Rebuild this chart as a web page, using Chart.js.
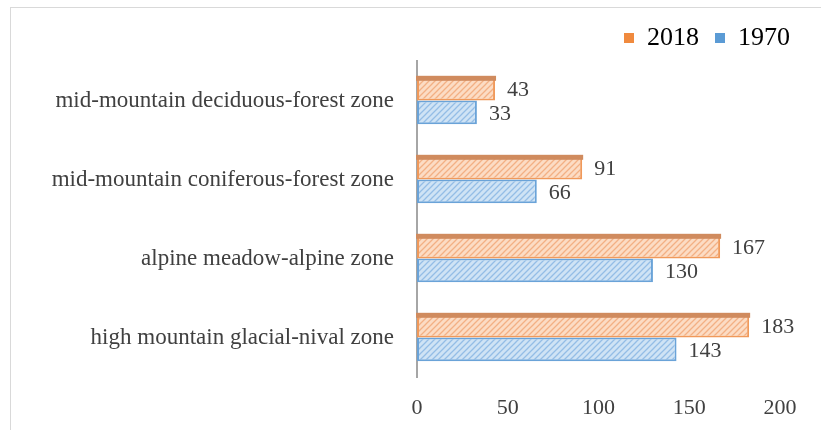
<!DOCTYPE html>
<html>
<head>
<meta charset="utf-8">
<script src="https://cdn.jsdelivr.net/npm/chart.js@4"></script>
<style>
  body { margin: 0; background: #fff; }
  #wrap { position: relative; width: 821px; height: 430px; overflow: hidden; }
  #frame { position: absolute; left: 10px; top: 7px; width: 830px; height: 440px; border: 1px solid #d9d9d9; box-sizing: border-box; }
  canvas { position: absolute; left: 0; top: 0; }
</style>
</head>
<body>
<div id="wrap">
  <div id="frame"></div>
  <canvas id="chart"></canvas>
</div>
<script>
// zones, top to bottom
const zones = [
  'mid-mountain deciduous-forest zone',
  'mid-mountain coniferous-forest zone',
  'alpine meadow-alpine zone',
  'high mountain glacial-nival zone'
];
const values2018 = [43, 91, 167, 183];
const values1970 = [33, 66, 130, 143];
const xTicks = [0, 50, 100, 150, 200];

const serif = '"Liberation Serif", "Times New Roman", serif';

const canvas = document.getElementById('chart');
canvas.width = 821;
canvas.height = 430;
const ctx = canvas.getContext('2d');

// diagonal hatch fill like the office chart
function hatch(bg, line) {
  const p = document.createElement('canvas');
  p.width = 6;
  p.height = 6;
  const c = p.getContext('2d');
  c.fillStyle = bg;
  c.fillRect(0, 0, 6, 6);
  c.strokeStyle = line;
  c.lineWidth = 1.3;
  c.beginPath();
  c.moveTo(-1, 7); c.lineTo(7, -1);
  c.moveTo(-1, 1); c.lineTo(1, -1);
  c.moveTo(5, 7); c.lineTo(7, 5);
  c.stroke();
  return ctx.createPattern(p, 'repeat');
}

// top face strip on the orange bars + value labels
const barExtras = {
  id: 'barExtras',
  afterDatasetsDraw(chart) {
    const c = chart.ctx;
    chart.data.datasets.forEach((ds, i) => {
      const meta = chart.getDatasetMeta(i);
      meta.data.forEach((bar, j) => {
        const top = bar.y - bar.height / 2;
        if (i === 0) {
          c.fillStyle = '#d08b5e';
          c.fillRect(bar.base - 1, top - 1, bar.x - bar.base + 2, 5);
        }
        c.save();
        c.fillStyle = '#404040';
        c.font = '22px ' + serif;
        c.textBaseline = 'middle';
        c.fillText(ds.data[j], bar.x + 12, bar.y + 2);
        c.restore();
      });
    });
  }
};

new Chart(ctx, {
  type: 'bar',
  data: {
    labels: zones,
    datasets: [{
      label: '2018',
      data: values2018,
      backgroundColor: hatch('#fcdcc4', '#f3b084'),
      borderColor: '#f0995a',
      borderWidth: 2,
      borderSkipped: false
    }, {
      label: '1970',
      data: values1970,
      backgroundColor: hatch('#cfe3f5', '#94bde6'),
      borderColor: '#6aa3d8',
      borderWidth: 2,
      borderSkipped: false
    }]
  },
  plugins: [barExtras],
  options: {
    indexAxis: 'y',
    responsive: false,
    animation: false,
    layout: { padding: { top: 9, right: 15, bottom: 0, left: 0 } },
    datasets: {
      bar: { categoryPercentage: 0.6, barPercentage: 1.0 }
    },
    plugins: {
      legend: {
        position: 'top',
        align: 'end',
        labels: {
          boxWidth: 10,
          boxHeight: 10,
          padding: 16,
          color: '#404040',
          font: { family: serif, size: 26 },
          generateLabels(chart) {
            return chart.data.datasets.map((ds, i) => ({
              text: ds.label,
              fillStyle: i === 0 ? '#f08a3e' : '#5b9bd5',
              strokeStyle: i === 0 ? '#f08a3e' : '#5b9bd5',
              lineWidth: 0,
              datasetIndex: i
            }));
          }
        }
      },
      tooltip: { enabled: false }
    },
    scales: {
      x: {
        min: 0,
        max: 200,
        afterBuildTicks(axis) { axis.ticks = xTicks.map(v => ({ value: v })); },
        afterFit(axis) {
          axis.height = 53;
          axis.paddingLeft = 0;
          axis.paddingRight = 41;
        },
        grid: { display: false },
        border: { display: false },
        ticks: {
          color: '#404040',
          padding: 10,
          font: { family: serif, size: 22 }
        }
      },
      y: {
        afterFit(axis) {
          axis.width = 417;
          axis.paddingTop = 0;
          axis.paddingBottom = 0;
        },
        grid: { display: false },
        border: { display: true, color: '#a6a6a6', width: 2 },
        ticks: {
          color: '#404040',
          padding: 15,
          font: { family: serif, size: 23 }
        }
      }
    }
  }
});
</script>
</body>
</html>
